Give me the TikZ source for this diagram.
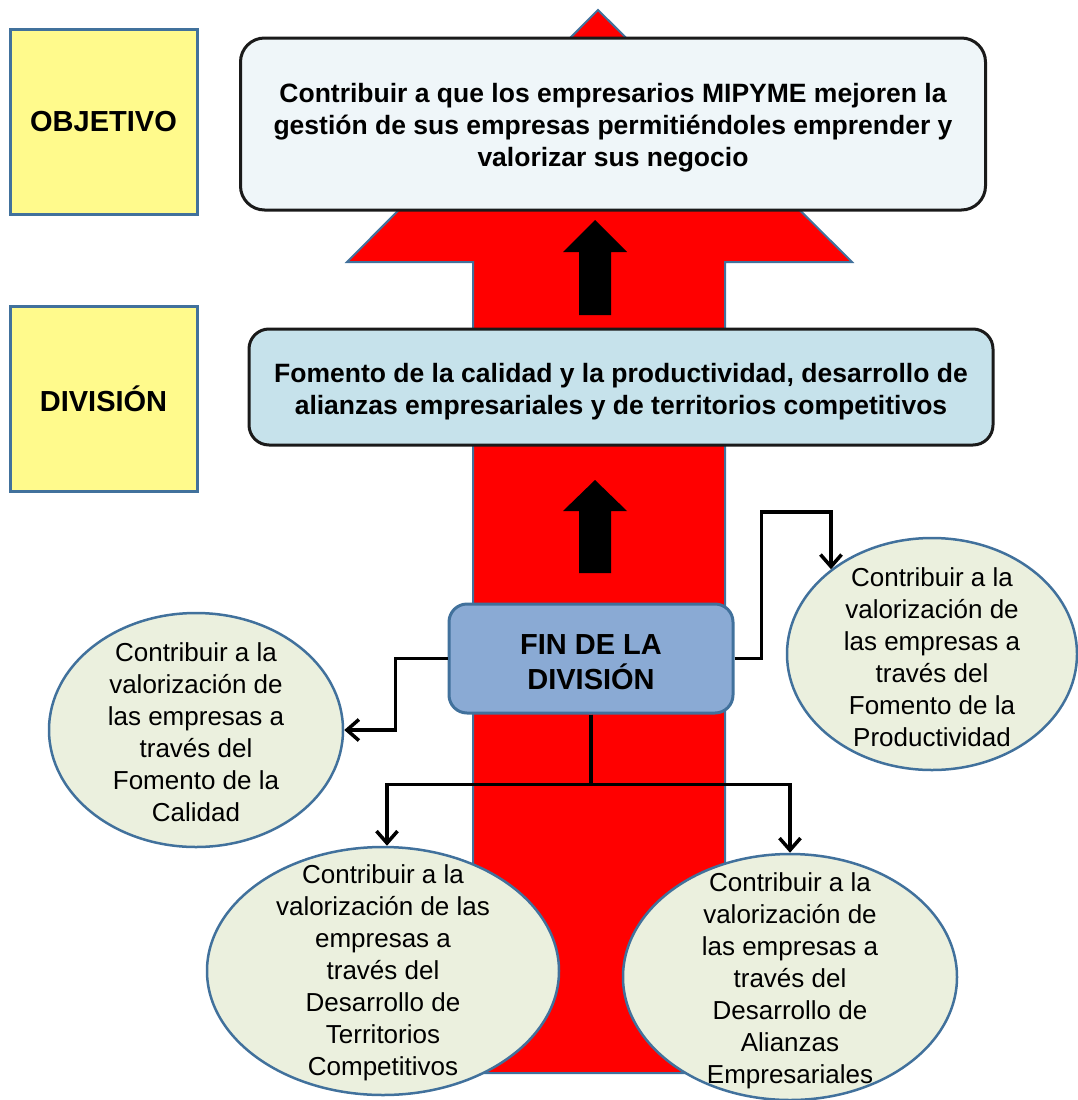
\documentclass[tikz,border=0pt]{standalone}
\usepackage{fontspec}
\setmainfont{Liberation Sans}
\usetikzlibrary{arrows.meta,shapes.geometric}

\definecolor{edgeblue}{HTML}{41719C}
\definecolor{sideyellow}{HTML}{FFFA8C}
\definecolor{goalfill}{HTML}{EFF6F9}
\definecolor{divfill}{HTML}{C6E2EB}
\definecolor{finfill}{HTML}{8AAAD4}
\definecolor{ellfill}{HTML}{EBF0DE}
\definecolor{boxline}{HTML}{1A1A1A}

\begin{document}
\begin{tikzpicture}[x=1pt,y=-1pt,
  sidebox/.style={draw=edgeblue, line width=3pt, fill=sideyellow,
    minimum width=187pt, minimum height=185pt, inner sep=0pt,
    font=\fontsize{29}{35}\selectfont\bfseries},
  mainbox/.style={draw=boxline, line width=3pt, rounded corners=24pt,
    inner sep=0pt},
  boldtext/.style={align=center, inner sep=0pt,
    font=\fontsize{26.5}{32}\selectfont\bfseries},
  finbox/.style={draw=edgeblue, line width=3pt, fill=finfill,
    rounded corners=18pt, minimum width=284pt, minimum height=109pt,
    inner sep=0pt},
  fintext/.style={align=center, inner sep=0pt,
    font=\fontsize{29}{35}\selectfont\bfseries},
  ell/.style={ellipse, draw=edgeblue, line width=2.5pt, fill=ellfill,
    inner sep=0pt},
  etext/.style={align=center, inner sep=0pt,
    font=\fontsize{26}{32}\selectfont},
  conn/.style={draw=black, line width=3.5pt,
    -{Straight Barb[length=12pt,width=21pt,line width=3.5pt]}},
  bigarrow/.style={fill=red, draw=edgeblue, line width=2pt, line join=miter},
  blackarrow/.style={fill=black, draw=none}
]
\useasboundingbox (0,0) rectangle (1077,1100);

% large red upward arrow behind everything
\path[bigarrow] (598,10) -- (852,262) -- (725,262) -- (725,1073)
  -- (473,1073) -- (473,262) -- (347,262) -- cycle;

% solid black arrows inside the shaft
\path[blackarrow] (595,220) -- (627,252) -- (611,252) -- (611,315)
  -- (579,315) -- (579,252) -- (563,252) -- cycle;
\path[blackarrow] (595,480) -- (627,511) -- (611,511) -- (611,573)
  -- (579,573) -- (579,511) -- (563,511) -- cycle;

% side labels
\node[sidebox] (obj) at (103.5,122) {OBJETIVO};
\node[sidebox] (divl) at (103.5,398.5) {DIVISIÓN};

% objective box
\node[mainbox, fill=goalfill, minimum width=745pt, minimum height=172pt]
  (goal) at (613,124) {};
\node[boldtext] (goaltext) at (613,128)
  {Contribuir a que los empresarios MIPYME mejoren la\\
   gestión de sus empresas permitiéndoles emprender y\\
   valorizar sus negocio};

% division box
\node[mainbox, fill=divfill, rounded corners=20pt, minimum width=744pt,
  minimum height=116pt] (div) at (621,387) {};
\node[boldtext] (divtext) at (621,392)
  {Fomento de la calidad y la productividad, desarrollo de\\
   alianzas empresariales y de territorios competitivos};

% purpose of the division
\node[finbox] (fin) at (591,658.5) {};
\node[fintext] (fintxt) at (591,662) {FIN DE LA\\DIVISIÓN};

% contributions
\node[ell, minimum width=294pt, minimum height=234pt] (e1) at (196,730) {};
\node[etext] (t1) at (196,732)
  {Contribuir a la\\valorización de\\las empresas a\\través del\\Fomento de la\\Calidad};

\node[ell, minimum width=290pt, minimum height=232pt] (e2) at (932,654) {};
\node[etext] (t2) at (932,657)
  {Contribuir a la\\valorización de\\las empresas a\\través del\\Fomento de la\\Productividad};

\node[ell, minimum width=352pt, minimum height=248pt] (e3) at (383,971) {};
\node[etext] (t3) at (383,973)
  {Contribuir a la\\valorización de las\\empresas a\\través del\\Desarrollo de\\Territorios\\Competitivos};

\node[ell, minimum width=334pt, minimum height=246pt] (e4) at (790,977) {};
\node[etext] (t4) at (790,981)
  {Contribuir a la\\valorización de\\las empresas a\\través del\\Desarrollo de\\Alianzas\\Empresariales};

% connectors
\coordinate (k2) at (831,512);
\draw[conn] (fin.west) -- ++(-52,0) |- (e1.east);
\draw[conn] (fin.east) -- ++(27,0) |- (k2) -- (k2 |- e2.140.6);
\draw[conn] (fin.south) -- ++(0,70) -| ([xshift=4pt]e3.north);
\draw[conn] (fin.south) -- ++(0,70) -| (e4.north);
\end{tikzpicture}
\end{document}
